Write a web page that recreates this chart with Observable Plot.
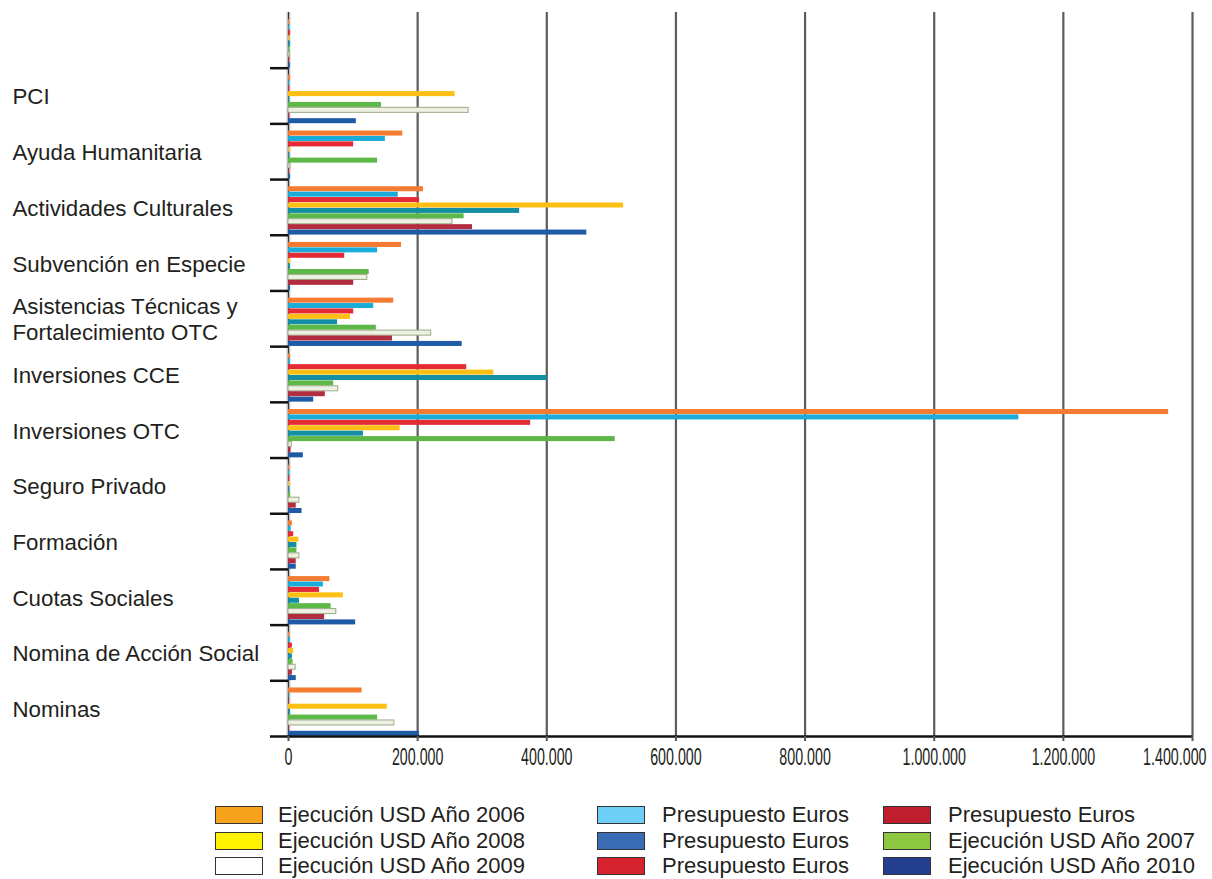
<!DOCTYPE html>
<html>
<head>
<meta charset="utf-8">
<script src="https://cdn.jsdelivr.net/npm/d3@7"></script>
<script src="https://cdn.jsdelivr.net/npm/@observablehq/plot@0.6"></script>
<style>
  body { margin: 0; background: #fff; }
  #wrap { position: relative; width: 1212px; height: 879px; overflow: hidden; font-family: "Liberation Sans", Arial, sans-serif; color: #231f20; }
  .lg { position: absolute; display: flex; align-items: center; font-size: 22px; white-space: nowrap; }
  .sw { width: 46px; height: 16px; border: 1px solid #333; box-sizing: content-box; }
</style>
</head>
<body>
<div id="wrap"></div>
<script>
// Categories, top to bottom (the first band is unlabeled in the source)
const categories = ["", "PCI", "Ayuda Humanitaria", "Actividades Culturales", "Subvención en Especie",
  "Asistencias Técnicas y\nFortalecimiento OTC", "Inversiones CCE", "Inversiones OTC", "Seguro Privado",
  "Formación", "Cuotas Sociales", "Nomina de Acción Social", "Nominas"];

// Series names in bar order (top to bottom inside each group)
const seriesNames = ["Ejecución USD Año 2006", "Presupuesto Euros", "Presupuesto Euros",
  "Ejecución USD Año 2008", "Presupuesto Euros", "Ejecución USD Año 2007",
  "Ejecución USD Año 2009", "Presupuesto Euros", "Ejecución USD Año 2010"];

// Values per series (one per category)
const ejec2006     = [2000, 3000, 177000, 209000, 175000, 163000, 3000, 1363000, 2000, 6000, 64000, 2000, 114000];
const presCyan     = [2000, 2000, 150000, 170000, 138000, 132000, 3000, 1131000, 2000, 4000, 54000, 3000, 1000];
const presRed      = [3000, 2000, 101000, 203000, 87000, 101000, 276000, 375000, 2000, 8000, 48000, 6000, 1000];
const ejec2008     = [2000, 258000, 2000, 519000, 3000, 96000, 318000, 173000, 2000, 16000, 85000, 8000, 153000];
const presBlue     = [3000, 2000, 2000, 358000, 3000, 76000, 401000, 116000, 2000, 13000, 17000, 6000, 3000];
const ejec2007     = [2000, 144000, 138000, 272000, 125000, 136000, 70000, 506000, 3000, 13000, 66000, 7000, 138000];
const ejec2009     = [2000, 279000, 3000, 254000, 122000, 221000, 77000, 5000, 17000, 17000, 74000, 11000, 164000];
const presDarkRed  = [2000, 2000, 2000, 285000, 101000, 161000, 57000, 4000, 12000, 12000, 56000, 6000, 1000];
const ejec2010     = [3000, 105000, 3000, 462000, 3000, 269000, 39000, 23000, 21000, 12000, 104000, 12000, 203000];
const seriesValues = [ejec2006, presCyan, presRed, ejec2008, presBlue, ejec2007, ejec2009, presDarkRed, ejec2010];

// Bar colours (as drawn) and legend swatch colours
const barColors    = ["#f47b30", "#1aabd8", "#e42a35", "#fdbf14", "#138ea3", "#5db848", "#eef0e2", "#b32d40", "#1f5aa6"];
const barStrokes   = ["none", "none", "none", "none", "none", "none", "#9aab88", "none", "none"];
const legendColors = ["#f7a21b", "#6dcff6", "#d7232e", "#fff200", "#3a6db5", "#8dc63f", "#ffffff", "#be1e2d", "#243f8f"];
const legendColumns = [[0, 3, 6], [1, 4, 2], [7, 5, 8]];

const xTicks = [0, 200000, 400000, 600000, 800000, 1000000, 1200000, 1400000];

// Build table
const nS = seriesNames.length;
const topGap = 0.125, slot = (1 - topGap) / nS;
const rows = [];
categories.forEach((c, i) => {
  seriesValues.forEach((arr, j) => {
    rows.push({cat: i, s: j, value: arr[i], y1: i + topGap + j * slot, y2: i + topGap + (j + 1) * slot});
  });
});

const fmt = d => d3.format(",")(d).replace(/,/g, ".");

const chart = Plot.plot({
  width: 1212,
  height: 782,
  marginLeft: 288,
  marginRight: 20,
  marginTop: 12,
  marginBottom: 46,
  style: {fontFamily: "Liberation Sans, Arial, sans-serif", background: "#fff", color: "#231f20", overflow: "visible"},
  x: {domain: [0, 1400000]},
  y: {domain: [0, categories.length], reverse: true},
  marks: [
    Plot.ruleX(xTicks.slice(1), {stroke: "#5c5c5c", strokeWidth: 2.2}),
    Plot.ruleX([0], {stroke: "#cfcfcf", strokeWidth: 4}),
    Plot.ruleX([0], {stroke: "#333", strokeWidth: 1.2}),
    Plot.rect(rows, {
      x1: () => 0, x2: "value", y1: "y1", y2: "y2",
      fill: d => barColors[d.s], stroke: d => barStrokes[d.s], strokeWidth: 1,
      insetTop: 0.2, insetBottom: 0.2
    }),
    Plot.ruleY([categories.length], {stroke: "#111", strokeWidth: 2.5}),
    Plot.axisY({ticks: d3.range(1, categories.length + 1), tickSize: 18, tickFormat: () => "", stroke: "#111", strokeWidth: 2.5, label: null}),
    Plot.axisX({ticks: xTicks, tickSize: 5, tickPadding: 7, tickFormat: fmt, fontSize: 23,
      fill: "#231f20", stroke: "#555", strokeWidth: 2, label: null}),
    Plot.text(categories, {
      y: (d, i) => i + 0.5, text: d => d, frameAnchor: "left", dx: -276, textAnchor: "start",
      fontSize: 22.3, lineHeight: 1.18, fill: "#231f20"
    })
  ]
});

const wrap = document.getElementById("wrap");
wrap.appendChild(chart);

// Condense the x tick labels horizontally (the source uses a narrow face)
const squeeze = 0.62;
const tickTexts = d3.select(chart).selectAll('g[aria-label="x-axis tick label"] text').nodes();
tickTexts.forEach((el, k) => {
  const t = el.getAttribute("transform") || "";
  el.setAttribute("transform", t + ` scale(${squeeze},1)`);
  if (k === tickTexts.length - 1) {
    el.setAttribute("text-anchor", "end");
    el.setAttribute("dx", (14 / squeeze).toFixed(1));
  }
});

// Legend (HTML, below the SVG)
const colX = [[215, 278], [597, 662], [883, 948]];
const rowY = [806, 832, 857];
legendColumns.forEach((col, ci) => {
  col.forEach((s, ri) => {
    const div = document.createElement("div");
    div.className = "lg";
    div.style.left = colX[ci][0] + "px";
    div.style.top = rowY[ri] + "px";
    div.style.height = "18px";
    const sw = document.createElement("div");
    sw.className = "sw";
    sw.style.background = legendColors[s];
    sw.style.marginRight = (colX[ci][1] - colX[ci][0] - 48) + "px";
    const t = document.createElement("span");
    t.textContent = seriesNames[s];
    div.appendChild(sw);
    div.appendChild(t);
    wrap.appendChild(div);
  });
});
</script>
</body>
</html>
